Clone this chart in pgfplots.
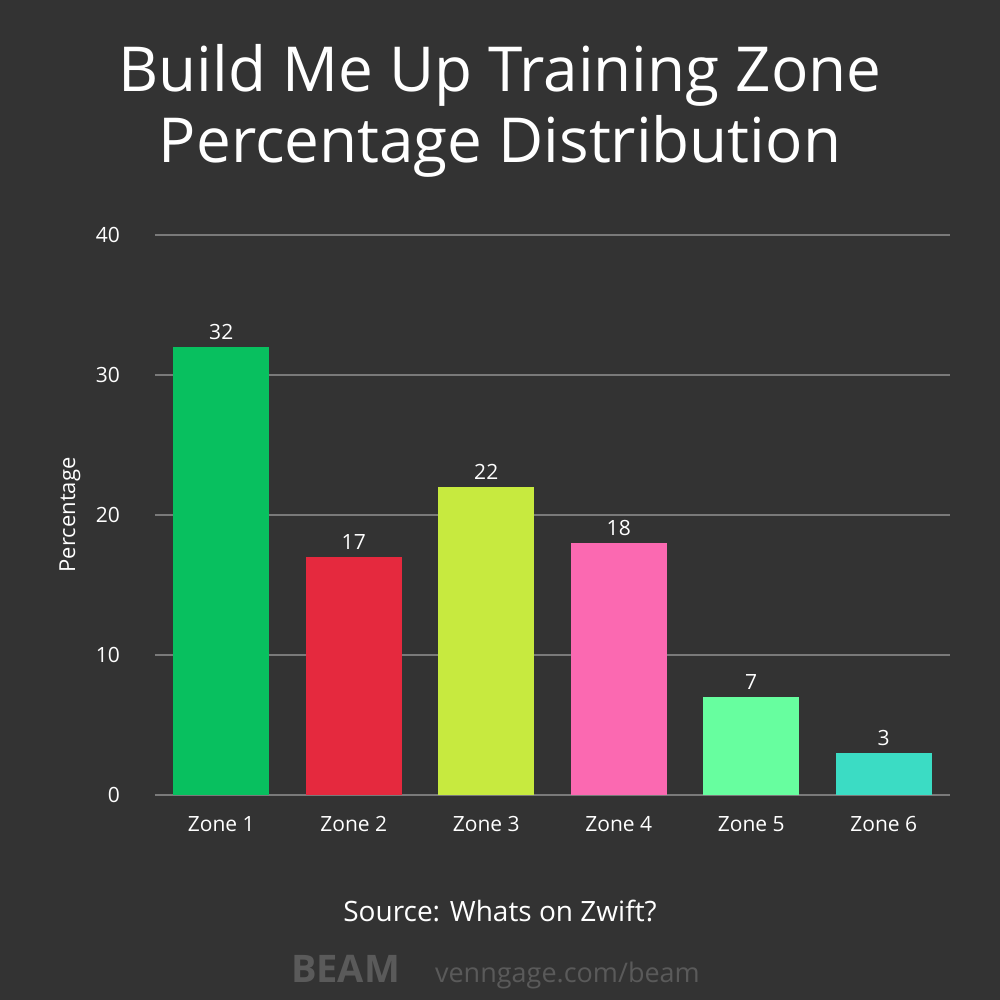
\documentclass[border=0pt]{standalone}
\usepackage{pgfplots}
\pgfplotsset{compat=1.18}
\usepackage{fontspec}
\setmainfont{Open Sans}

\definecolor{bg}{HTML}{333333}
\definecolor{gridc}{HTML}{7A7A7A}
\definecolor{zA}{HTML}{08C05F}
\definecolor{zB}{HTML}{E5293E}
\definecolor{zC}{HTML}{C7EA3F}
\definecolor{zD}{HTML}{FB69B1}
\definecolor{zE}{HTML}{67FE9F}
\definecolor{zF}{HTML}{3BDCC4}
\definecolor{wmgrey}{HTML}{5A5A5A}

\begin{document}
\begin{tikzpicture}[x=1pt,y=1pt]
% canvas 500pt x 500pt
\fill[bg] (0,0) rectangle (500,500);
\node[white, font=\fontsize{31}{36}\selectfont, anchor=base] at (250,454) {Build Me Up Training Zone};
\node[white, font=\fontsize{31}{36}\selectfont, anchor=base] at (250,418.5) {Percentage Distribution};

\begin{axis}[
  at={(77.5pt,102.5pt)}, anchor=south west,
  scale only axis, width=397.5pt, height=280pt,
  xmin=-0.5, xmax=5.5, ymin=0, ymax=40,
  ytick={0,10,20,30,40},
  xtick={0,1,2,3,4,5},
  xticklabels={Zone 1,Zone 2,Zone 3,Zone 4,Zone 5,Zone 6},
  axis x line*=bottom, axis y line*=left,
  x axis line style={gridc, line width=1pt, -},
  y axis line style={draw=none},
  ymajorgrids, grid style={gridc, line width=0.8pt},
  major tick length=0pt,
  tick label style={white, font=\fontsize{10.5}{12}\selectfont},
  /pgf/number format/assume math mode=true,
  xticklabel style={yshift=-7pt},
  yticklabel style={xshift=-14pt, anchor=east},
  ylabel={Percentage},
  every axis y label/.style={at={(axis description cs:-0.107,0.5)}, rotate=90, anchor=center,
    white, font=\fontsize{11}{12}\selectfont},
  ybar, bar width=48pt, bar shift=0pt,
  nodes near coords, nodes near coords style={white, font=\fontsize{10.5}{12}\selectfont, yshift=0pt},
  clip=false,
]
\addplot[fill=zA, draw=none] coordinates {(0,32)};
\addplot[fill=zB, draw=none] coordinates {(1,17)};
\addplot[fill=zC, draw=none] coordinates {(2,22)};
\addplot[fill=zD, draw=none] coordinates {(3,18)};
\addplot[fill=zE, draw=none] coordinates {(4,7)};
\addplot[fill=zF, draw=none] coordinates {(5,3)};
\end{axis}

\node[white, font=\fontsize{14}{16}\selectfont, anchor=base] at (250,39) {Source: Whats on Zwift?};
\node[wmgrey, font=\fontsize{19}{20}\selectfont\bfseries, anchor=base west] at (142,9) {BEAM};
\node[wmgrey, font=\fontsize{13.5}{16}\selectfont, anchor=base west] at (214,9) {venngage.com/beam};
\end{tikzpicture}
\end{document}
